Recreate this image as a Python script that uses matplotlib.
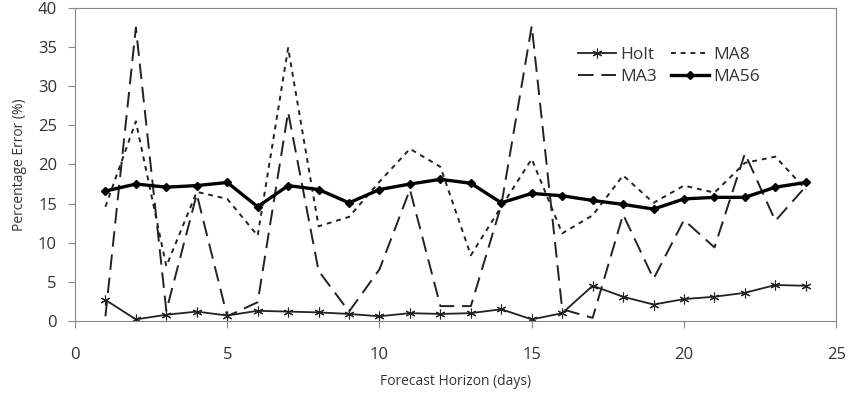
import matplotlib.pyplot as plt
import numpy as np

plt.rcParams['font.family'] = ['Open Sans', 'DejaVu Sans']

# Horizon de prévision (jours)
days = np.arange(1, 25)

# Erreurs en pourcentage
holt = [2.7, 0.2, 0.8, 1.2, 0.7, 1.3, 1.2, 1.1, 0.9, 0.6, 1.0, 0.9,
        1.0, 1.5, 0.2, 1.0, 4.5, 3.1, 2.1, 2.8, 3.1, 3.6, 4.6, 4.5]
ma3 = [0.6, 37.5, 1.3, 16.2, 0.6, 2.4, 26.7, 6.4, 1.2, 6.6, 16.8, 1.9,
       1.9, 14.8, 37.7, 1.5, 0.4, 13.6, 5.4, 12.9, 9.4, 21.4, 12.8, 17.2]
ma8 = [14.6, 25.5, 7.0, 16.5, 15.6, 10.9, 34.9, 12.1, 13.3, 17.8, 22.0, 19.7,
       8.4, 14.6, 20.7, 11.2, 13.5, 18.6, 15.1, 17.3, 16.4, 20.2, 21.0, 16.8]
ma56 = [16.6, 17.5, 17.1, 17.3, 17.7, 14.6, 17.3, 16.8, 15.1, 16.8, 17.5, 18.1,
        17.6, 15.1, 16.3, 16.0, 15.4, 14.9, 14.3, 15.6, 15.8, 15.8, 17.1, 17.7]

fig = plt.figure(figsize=(8.49, 3.98), dpi=100)
ax = fig.add_axes([0.0883, 0.1935, 0.8967, 0.7865])

ax.plot(days, holt, '-', color='#222222', lw=1.3, marker=(6, 2, 0), ms=7, mew=0.8, label='Holt')
ax.plot(days, ma3, color='#222222', lw=1.4, dashes=(8, 4), label='MA3')
ax.plot(days, ma8, color='#222222', lw=1.4, dashes=(2.5, 2.5), label='MA8')
ax.plot(days, ma56, '-', color='black', lw=2.4, marker='D', ms=4.5, label='MA56')

ax.set_xlim(0, 25)
ax.set_ylim(0, 40)
ax.set_xticks(range(0, 26, 5))
ax.set_yticks(range(0, 41, 5))
ax.tick_params(direction='out', length=5, color='#888888', labelsize=12, colors='#333333')
ax.tick_params(axis='x', pad=14)
ax.tick_params(axis='y', pad=8)
for s in ax.spines.values():
    s.set_color('#888888')

ax.set_xlabel('Forecast Horizon (days)', fontsize=10, color='#333333', labelpad=8)
ax.set_ylabel('Percentage Error (%)', fontsize=10, color='#333333', labelpad=8)

leg = ax.legend(loc='upper left', bbox_to_anchor=(0.64, 0.925), ncol=2, frameon=False,
                fontsize=12.5, handlelength=2.2, handletextpad=0.25, columnspacing=0.8,
                labelspacing=0.35)
for t in leg.get_texts():
    t.set_color('#333333')

fig.savefig('out.png', dpi=100)
